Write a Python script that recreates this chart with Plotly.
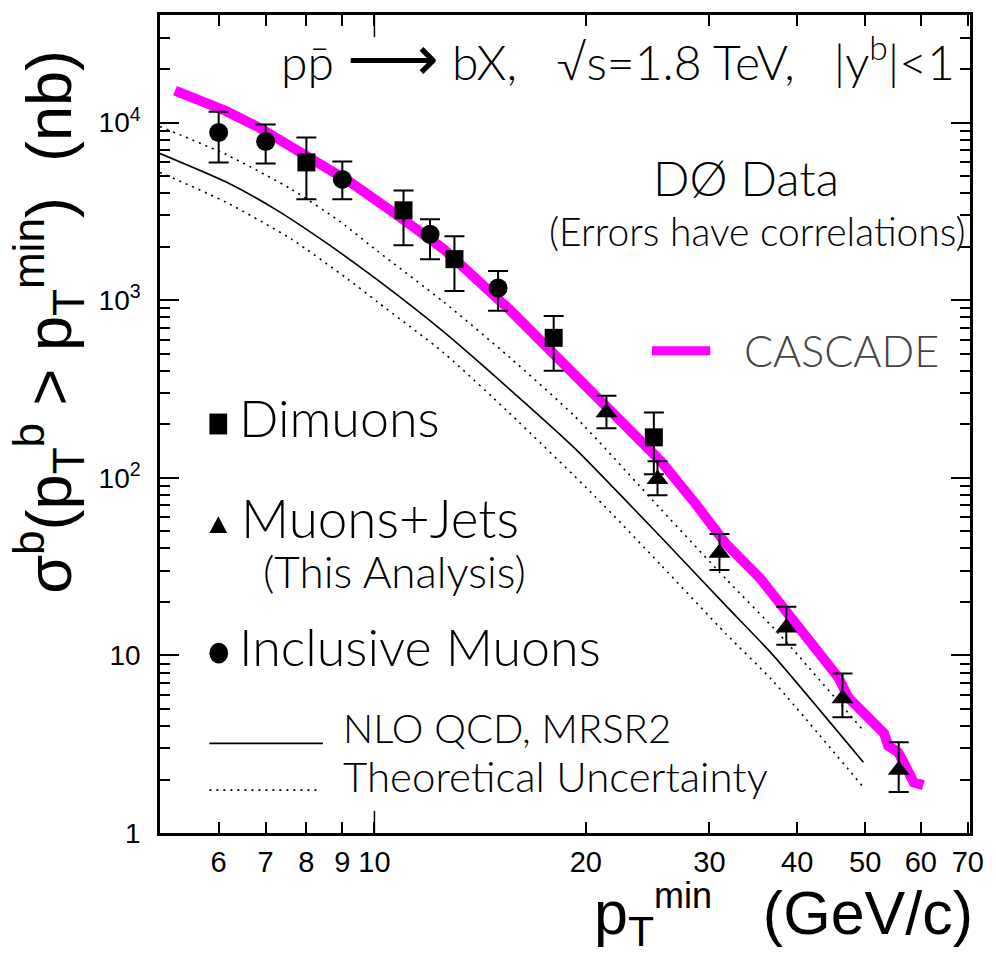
import math
import plotly.graph_objects as go

# ---- measured b-quark cross sections sigma(pT^b > pT^min) in nb ----
incl_pt = [6, 7, 9, 12, 15]
incl_sigma = [8790, 7820, 4790, 2353, 1172]
incl_hi = [11530, 9750, 6040, 2856, 1459]
incl_lo = [5970, 5890, 3700, 1703, 871]

dimu_pt = [8, 11, 13, 18, 25]
dimu_sigma = [5970, 3208, 1703, 614, 169]
dimu_hi = [8240, 4150, 2291, 816, 233]
dimu_lo = [3700, 2042, 1127, 401, 104.7]

mj_pt = [21.4, 25.3, 31.0, 38.6, 46.4, 55.8]
mj_sigma = [233, 98.1, 37.7, 14.3, 5.72, 2.26]
mj_hi = [290, 123.8, 48.2, 18.8, 7.90, 3.24]
mj_lo = [190, 79.8, 30.3, 11.5, 4.48, 1.70]

# ---- theory curves ----
nlo_pt = [4.95, 6.15, 7.23, 8.51, 10.1, 12.55, 15.54, 19.31, 25.58, 31.68, 36.9, 49.7]
nlo_sigma = [6700, 4630, 3250, 2123, 1300, 663, 318, 146, 46.4, 19.0, 10.1, 2.50]

upper_pt = [4.95, 6.15, 7.62, 8.96, 10.1, 12.55, 15.54, 19.31, 25.58, 31.68, 37.7, 49.4]
upper_sigma = [9500, 6610, 4210, 2748, 1890, 977, 481, 221, 66.6, 26.9, 13.2, 3.88]

lower_pt = [4.95, 6.15, 7.62, 9.16, 10.1, 12.55, 15.54, 20.6, 25.58, 31.68, 36.9, 49.7]
lower_sigma = [5245, 3560, 2206, 1316, 977, 506, 233, 78.8, 32.3, 13.2, 7.21, 1.81]

cascade_pt = [5.20, 6.15, 6.85, 7.97, 9.25, 10.78, 12.55, 15.54, 19.31, 21.97, 25.58,
              28.48, 31.68, 35.4, 38.5, 41.06, 45.8, 47.3, 49.4, 51.0, 53.2, 53.9,
              55.7, 56.8, 58.6, 60.5]
cascade_sigma = [15130, 11600, 9380, 6610, 4600, 3008, 1940, 893, 372, 227, 124,
                 73.8, 42.4, 27.3, 17.8, 13.2, 7.50, 5.79, 4.90, 4.48, 3.64, 3.10,
                 2.85, 2.47, 1.93, 1.86]

x_ticks = [6, 7, 8, 9, 10, 20, 30, 40, 50, 60, 70]
y_ticks = [1, 10, 100, 1000, 10000]
y_ticktext = ["1", "10", "10<sup>2</sup>", "10<sup>3</sup>", "10<sup>4</sup>"]

LABEL_FONT = "Liberation Sans Narrow, Liberation Sans, Arial, sans-serif"
TEXT_FONT = "Lato, Noto Sans, sans-serif"

fig = go.Figure()

dots = "2px,5px"
fig.add_trace(go.Scatter(x=lower_pt, y=lower_sigma, mode="lines",
                         line=dict(color="black", width=1.6, dash=dots, shape="spline", smoothing=0.6)))
fig.add_trace(go.Scatter(x=upper_pt, y=upper_sigma, mode="lines",
                         line=dict(color="black", width=1.6, dash=dots, shape="spline", smoothing=0.6)))
fig.add_trace(go.Scatter(x=nlo_pt, y=nlo_sigma, mode="lines",
                         line=dict(color="black", width=1.6, shape="spline", smoothing=0.6)))
fig.add_trace(go.Scatter(x=cascade_pt, y=cascade_sigma, mode="lines",
                         line=dict(color="#ff00ff", width=10)))


def err(sig, hi, lo, symbol, size):
    return dict(
        mode="markers",
        marker=dict(symbol=symbol, size=size, color="black"),
        error_y=dict(type="data", symmetric=False,
                     array=[h - s for h, s in zip(hi, sig)],
                     arrayminus=[s - l for s, l in zip(sig, lo)],
                     color="black", thickness=2, width=10),
    )


fig.add_trace(go.Scatter(x=incl_pt, y=incl_sigma, **err(incl_sigma, incl_hi, incl_lo, "circle", 19)))
fig.add_trace(go.Scatter(x=dimu_pt, y=dimu_sigma, **err(dimu_sigma, dimu_hi, dimu_lo, "square", 18)))
fig.add_trace(go.Scatter(x=mj_pt, y=mj_sigma, **err(mj_sigma, mj_hi, mj_lo, "triangle-up", 19)))

minor_y = [m * 10 ** e for e in range(0, 5) for m in range(2, 10) if m * 10 ** e < 41000]

fig.update_layout(
    width=996, height=959,
    margin=dict(l=160, r=16, t=12, b=126),
    paper_bgcolor="white", plot_bgcolor="white",
    showlegend=False,
    xaxis=dict(
        type="log", range=[math.log10(4.95), math.log10(70.5)],
        tickmode="array", tickvals=x_ticks, ticktext=[str(v) for v in x_ticks],
        ticks="inside", ticklen=11, tickwidth=1.5, tickcolor="black",
        showline=True, linewidth=2.5, linecolor="black", mirror="allticks",
        showgrid=False, zeroline=False,
        tickfont=dict(family=LABEL_FONT, size=29, color="black"),
        ticklabelstandoff=1,
    ),
    yaxis=dict(
        type="log", range=[0, 4.606],
        tickmode="array", tickvals=y_ticks, ticktext=y_ticktext,
        ticks="inside", ticklen=19, tickwidth=1.5, tickcolor="black",
        minor=dict(tickmode="array", tickvals=minor_y, ticks="inside",
                   ticklen=10, tickwidth=1.5, tickcolor="black"),
        showline=True, linewidth=2.5, linecolor="black", mirror="allticks",
        showgrid=False, zeroline=False,
        tickfont=dict(family=LABEL_FONT, size=28, color="black"),
        ticklabelstandoff=11,
    ),
)

# longer ticks at pT = 10 on the bottom and top axes
for y0, y1 in [(0, 0.027), (1, 0.973)]:
    fig.add_shape(type="line", xref="x", yref="paper", x0=10, x1=10, y0=y0, y1=y1,
                  line=dict(color="black", width=1.5))

# legend keys
fig.add_shape(type="rect", xref="paper", yref="paper",
              x0=0.0610, x1=0.0829, y0=0.4872, y1=0.5128,
              fillcolor="black", line=dict(width=0))
fig.add_shape(type="path", xref="paper", yref="paper",
              path="M 0.0610,0.3666 L 0.0829,0.3666 L 0.0720,0.3873 Z",
              fillcolor="black", line=dict(width=0))
fig.add_shape(type="circle", xref="paper", yref="paper",
              x0=0.0610, x1=0.0841, y0=0.2071, y1=0.2326,
              fillcolor="black", line=dict(width=0))
fig.add_shape(type="line", xref="paper", yref="paper",
              x0=0.6073, x1=0.6793, y0=0.5895, y1=0.5895,
              line=dict(color="#ff00ff", width=9))
fig.add_shape(type="line", xref="paper", yref="paper",
              x0=0.0610, x1=0.2012, y0=0.1096, y1=0.1096,
              line=dict(color="black", width=1.6))
fig.add_shape(type="line", xref="paper", yref="paper",
              x0=0.0610, x1=0.1988, y0=0.0524, y1=0.0524,
              line=dict(color="black", width=1.6, dash=dots))


def label(text, x, y, size, anchor="left", yanchor="middle", color="black", weight=300,
          family=TEXT_FONT, angle=0):
    fig.add_annotation(text=text, x=x, y=y, xref="paper", yref="paper",
                       xanchor=anchor, yanchor=yanchor, showarrow=False,
                       textangle=angle,
                       font=dict(family=family, size=size, color=color, weight=weight))


label("pp\u0304 <span style='font-size:64px'>\u27f6</span> bX,   \u221as=1.8 TeV,   |y<sup>b</sup>|<1",
      0.1463, 0.950, 48)
label("D\u00d8 Data", 0.6061, 0.801, 48)
label("(Errors have correlations)", 0.478, 0.736, 39)
label("CASCADE", 0.7183, 0.5895, 43, color="#444444", weight=300)
label("Dimuons", 0.0951, 0.5088, 52)
label("Muons+Jets", 0.0976, 0.3862, 53)
label("(This Analysis)", 0.1244, 0.3200, 44)
label("Inclusive Muons", 0.0951, 0.2289, 52)
label("NLO QCD, MRSR2", 0.2232, 0.1279, 40)
label("Theoretical Uncertainty", 0.2232, 0.0694, 42)

# axis titles
label("\u03c3<sup>b</sup>(p<sub>T</sub><sup>b</sup> > p<sub>T</sub><sup>min</sup>)  (nb)",
      -0.137, 0.290, 63, anchor="center", yanchor="bottom", weight=400,
      family=LABEL_FONT, angle=-90)
label("p<sub>T</sub><sup><span style='font-size:36px'>min</span></sup>   (GeV/c)",
      1.006, -0.1515, 61, anchor="right", yanchor="bottom", weight=400, family=LABEL_FONT)

fig.write_html("out.html")
